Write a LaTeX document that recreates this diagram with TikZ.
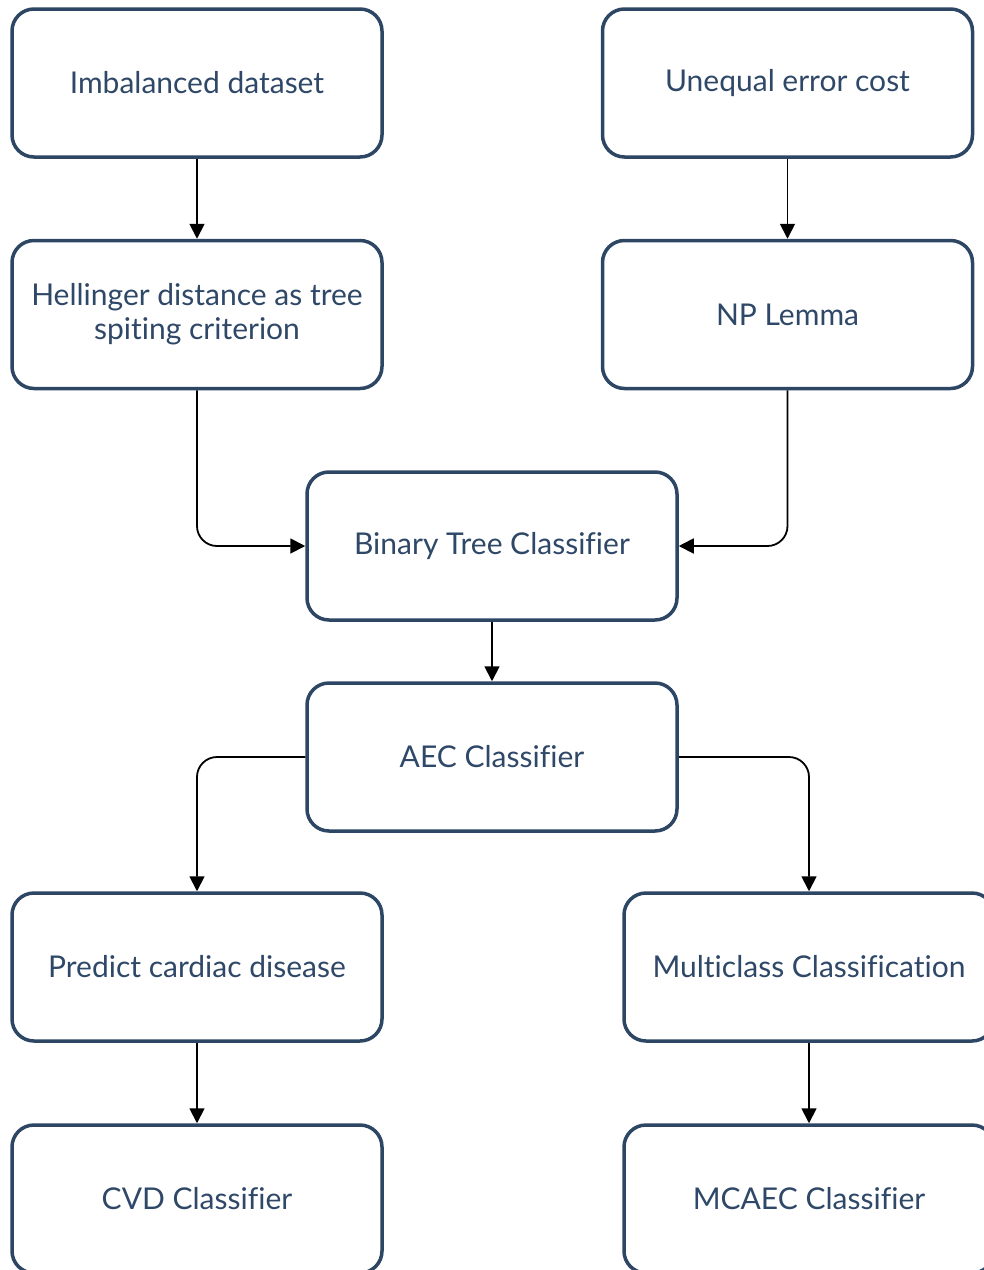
\documentclass[tikz,border=0pt]{standalone}
\usepackage{fontspec}
\setmainfont{Lato}[Ligatures={NoCommon}]
\usetikzlibrary{arrows.meta}
\definecolor{boxc}{HTML}{2D4664}
\definecolor{txtc}{HTML}{2F4868}
\tikzset{
  box/.style={draw=boxc, line width=3.5pt, rounded corners=22pt, minimum width=370pt, minimum height=148pt, inner sep=0pt, fill=white, text=txtc, align=center, font=\fontsize{30}{34}\selectfont},
  conn/.style={line width=1.8pt, black, rounded corners=20pt, -{Triangle[length=15pt,width=15pt]}}
}
\begin{document}
\begin{tikzpicture}[x=1pt,y=-1pt]
\useasboundingbox (0,0) rectangle (984,1270);
\node[box] (imb) at (197,83) {Imbalanced dataset};
\node[box] (hel) at (197,314.5) {Hellinger distance as tree\\spiting criterion};
\node[box] (une) at (787.5,83) {Unequal error cost};
\node[box] (np) at (787.5,314.5) {NP Lemma};
\node[box] (bin) at (492,546) {Binary Tree Classifier};
\node[box] (aec) at (492,757) {AEC Classifier};
\node[box] (pre) at (197,967) {Predict cardiac disease};
\node[box] (mul) at (809,967) {Multiclass Classification};
\node[box] (cvd) at (197,1199) {CVD Classifier};
\node[box] (mca) at (809,1199) {MCAEC Classifier};
\draw[conn] (imb.south) -- (hel.north);
\draw[conn] (une.south) -- (np.north);
\draw[conn] (hel.south) |- (bin.west);
\draw[conn] (np.south) |- (bin.east);
\draw[conn] (bin.south) -- (aec.north);
\draw[conn] (aec.west) -| (pre.north);
\draw[conn] (aec.east) -| (mul.north);
\draw[conn] (pre.south) -- (cvd.north);
\draw[conn] (mul.south) -- (mca.north);
\end{tikzpicture}
\end{document}
